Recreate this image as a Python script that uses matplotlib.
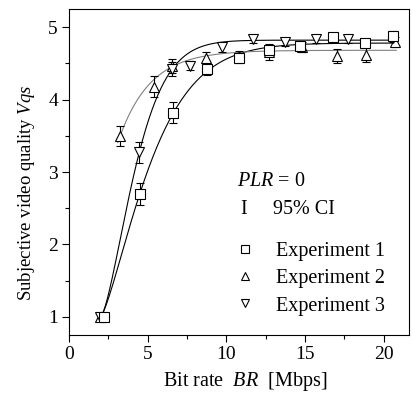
import numpy as np
import matplotlib
matplotlib.use('Agg')
import matplotlib.pyplot as plt
from matplotlib.lines import Line2D

plt.rcParams['font.family'] = ['Liberation Serif', 'DejaVu Serif']
plt.rcParams['mathtext.fontset'] = 'custom'
plt.rcParams['mathtext.rm'] = 'Liberation Serif'
plt.rcParams['mathtext.it'] = 'Liberation Serif:italic'

# Experiment 1 (squares)
br1 = [2.2, 4.5, 6.6, 8.8, 10.8, 12.7, 14.7, 16.8, 18.8, 20.6]
vqs1 = [1.0, 2.7, 3.82, 4.42, 4.57, 4.68, 4.74, 4.86, 4.78, 4.88]
ci1 = [0.04, 0.15, 0.15, 0.08, 0.07, 0.08, 0.06, 0.05, 0.06, 0.06]

# Experiment 2 (up triangles)
br2 = [2.0, 3.25, 5.4, 6.56, 8.7, 10.8, 12.7, 14.8, 17.0, 18.9, 20.7]
vqs2 = [1.0, 3.5, 4.18, 4.46, 4.58, 4.6, 4.65, 4.72, 4.6, 4.62, 4.79]
ci2 = [0.04, 0.14, 0.14, 0.1, 0.08, 0.07, 0.1, 0.07, 0.1, 0.1, 0.07]

# Experiment 3 (down triangles)
br3 = [2.0, 4.46, 6.56, 7.7, 9.75, 11.7, 13.7, 15.7, 17.7, 20.6]
vqs3 = [1.0, 3.27, 4.42, 4.47, 4.72, 4.83, 4.79, 4.83, 4.83, 4.85]
ci3 = [0.04, 0.15, 0.1, 0.06, 0.06, 0.05, 0.05, 0.05, 0.05, 0.05]

# fitted curves: Weibull-type for exp 1 and 3, exponential for exp 2
fit1 = dict(a=4.78, x0=2.0, s=3.67, n=1.34)
fit3 = dict(a=4.82, x0=2.0, s=2.64, n=1.49)
fit2 = dict(a=4.68, b=6.0, k=0.5, start=3.1)


def weibull(x, a, x0, s, n):
    return 1 + (a - 1) * (1 - np.exp(-((x - x0) / s) ** n))


fs = 14.5
fig = plt.figure(figsize=(4.14, 4.05), dpi=100)
ax = fig.add_axes([0.1667, 0.1728, 0.821, 0.805])

xs = np.linspace(2.0, 20.8, 300)
ax.plot(xs, weibull(xs, **fit1), color='black', lw=0.8)
ax.plot(xs, weibull(xs, **fit3), color='black', lw=0.8)
xs2 = np.linspace(fit2['start'], 20.8, 300)
ax.plot(xs2, fit2['a'] - fit2['b'] * np.exp(-fit2['k'] * xs2), color='0.5', lw=0.8)

kw = dict(ls='none', mfc='white', color='black', ms=6.5, mew=0.8,
          ecolor='black', elinewidth=0.8, capsize=3, capthick=0.8)
ax.errorbar(br2, vqs2, yerr=ci2, marker='^', **kw)
ax.errorbar(br3, vqs3, yerr=ci3, marker='v', **kw)
ax.errorbar(br1, vqs1, yerr=ci1, marker='s', **kw)

ax.set_xlim(0, 21.6)
ax.set_ylim(0.75, 5.25)
ax.set_xticks([0, 5, 10, 15, 20])
ax.set_xticks([2.5, 7.5, 12.5, 17.5], minor=True)
ax.set_yticks([1, 2, 3, 4, 5])
ax.set_yticks([1.5, 2.5, 3.5, 4.5], minor=True)
ax.tick_params(which='major', direction='out', length=5, width=0.8, labelsize=14, pad=3)
ax.tick_params(which='minor', direction='out', length=3, width=0.8)
for sp in ax.spines.values():
    sp.set_linewidth(0.8)

ax.set_xlabel('Bit rate  $BR$  [Mbps]', fontsize=fs)
ax.xaxis.set_label_coords(0.518, -0.107)
ax.set_ylabel('Subjective video quality $Vqs$', fontsize=13.5)
ax.yaxis.set_label_coords(-0.094, 0.436)

ax.text(0.494, 0.472, '$PLR$ = 0', transform=ax.transAxes, fontsize=fs, va='center')
ax.text(0.515, 0.385, 'I', transform=ax.transAxes, fontsize=fs, va='center', ha='center')
ax.text(0.6, 0.385, '95% CI', transform=ax.transAxes, fontsize=fs, va='center')

handles = [Line2D([], [], ls='none', marker=m, mfc='white', color='black', ms=6, mew=0.8)
           for m in ['s', '^', 'v']]
ax.legend(handles, ['Experiment 1', 'Experiment 2', 'Experiment 3'],
          loc='upper left', bbox_to_anchor=(0.487, 0.285), frameon=False,
          fontsize=fs, handlelength=1.0, handletextpad=1.04, labelspacing=0.4,
          borderpad=0, borderaxespad=0)

fig.savefig('out.png', dpi=100)
